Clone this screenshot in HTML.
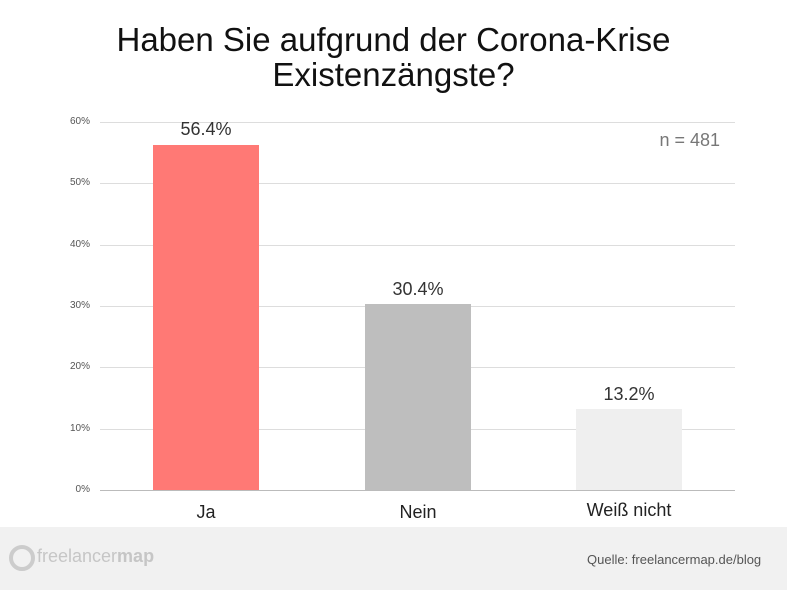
<!DOCTYPE html>
<html><head><meta charset="utf-8"><style>
body{margin:0;width:787px;height:590px;background:#fff;overflow:hidden;font-family:"Liberation Sans",sans-serif;position:relative}
.a{position:absolute}
.t{left:0;width:787px;text-align:center;font-size:33px;color:#111;line-height:35px}
.g{left:100px;width:635px;height:1px;background:#ddd}
.yl{left:40px;width:50px;text-align:right;font-size:10px;color:#555}
.bar{width:106px}
.v{width:160px;text-align:center;font-size:18px;color:#333}
.x{width:160px;text-align:center;font-size:18px;color:#222}
</style></head><body>
<div class="a t" style="top:22px">Haben Sie aufgrund der Corona-Krise</div>
<div class="a t" style="top:57px">Existenzängste?</div>
<div class="a g" style="top:122px"></div>
<div class="a g" style="top:183px"></div>
<div class="a g" style="top:245px"></div>
<div class="a g" style="top:306px"></div>
<div class="a g" style="top:367px"></div>
<div class="a g" style="top:429px"></div>
<div class="a g" style="top:490px;background:#bbb"></div>
<div class="a yl" style="top:116px">60%</div>
<div class="a yl" style="top:177px">50%</div>
<div class="a yl" style="top:239px">40%</div>
<div class="a yl" style="top:300px">30%</div>
<div class="a yl" style="top:361px">20%</div>
<div class="a yl" style="top:423px">10%</div>
<div class="a yl" style="top:484px">0%</div>
<div class="a bar" style="left:153px;top:145px;height:345px;background:#ff7975"></div>
<div class="a bar" style="left:365px;top:304px;height:186px;background:#bebebe"></div>
<div class="a bar" style="left:576px;top:409px;height:81px;background:#efefef"></div>
<div class="a v" style="left:126px;top:119px">56.4%</div>
<div class="a v" style="left:338px;top:279px">30.4%</div>
<div class="a v" style="left:549px;top:384px">13.2%</div>
<div class="a x" style="left:126px;top:502px">Ja</div>
<div class="a x" style="left:338px;top:502px">Nein</div>
<div class="a x" style="left:549px;top:500px">Weiß nicht</div>
<div class="a" style="left:640px;top:130px;width:80px;text-align:right;font-size:18px;color:#777">n = 481</div>
<div class="a" style="left:0;top:527px;width:787px;height:63px;background:#f1f1f1"></div>
<div class="a" style="left:9px;top:545px;width:26px;height:26px;border-radius:50%;border:4px solid #ccc;box-sizing:border-box"></div>
<div class="a" style="left:37px;top:546px;font-size:18px;color:#c6c6c6">freelancer<b>map</b></div>
<div class="a" style="left:587px;top:552px;font-size:13px;color:#555">Quelle: freelancermap.de/blog</div>
</body></html>
